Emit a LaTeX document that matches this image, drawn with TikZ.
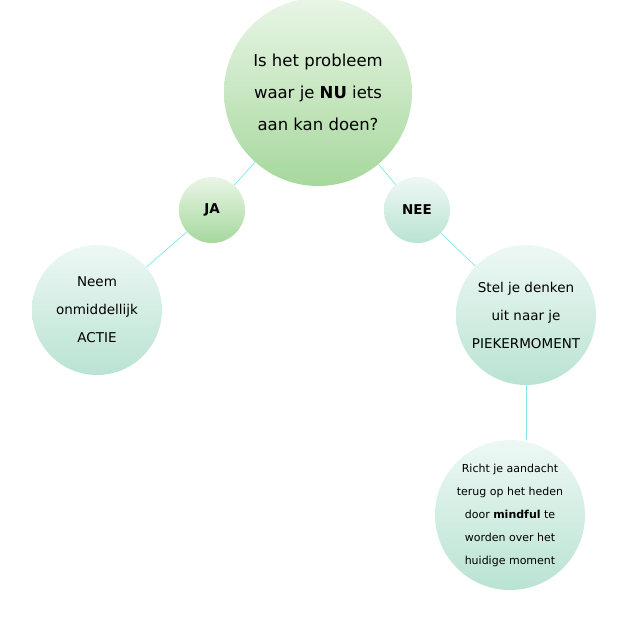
\documentclass[tikz,border=0pt]{standalone}
\usepackage{fontspec}
\setmainfont{DejaVu Sans}
\begin{document}
\begin{tikzpicture}[x=1pt,y=-1pt,
  bub/.style={circle,draw=none,top color=#1!25!white,bottom color=#1,align=center,inner sep=0pt},
  conn/.style={draw=teal!40!cyan!50!white,line width=0.7pt}]
\useasboundingbox (0,0) rectangle (640,640);
\definecolor{mint}{HTML}{B9E3D3}
\definecolor{leaf}{HTML}{A6D89C}
\node[bub=leaf,minimum size=188pt,font=\fontsize{16.5}{32}\selectfont] (top) at (318,92) {Is het probleem\\waar je \textbf{NU} iets\\aan kan doen?};
\node[bub=leaf,minimum size=66pt,font=\fontsize{13.5}{15}\selectfont\bfseries] (ja) at (212,210) {JA};
\node[bub=mint,minimum size=66pt,font=\fontsize{13.5}{15}\selectfont\bfseries] (nee) at (417,210) {NEE};
\node[bub=mint,minimum size=130pt,font=\fontsize{13.5}{28}\selectfont] (neem) at (97,310) {Neem\\onmiddellijk\\ACTIE};
\node[bub=mint,minimum size=140pt,font=\fontsize{13.5}{28}\selectfont] (stel) at (526,315) {Stel je denken\\uit naar je\\PIEKERMOMENT};
\node[bub=mint,minimum size=150pt,font=\fontsize{11}{23}\selectfont] (richt) at (510,515) {Richt je aandacht\\terug op het heden\\door \textbf{mindful} te\\worden over het\\huidige moment};
\draw[conn] (top) -- (ja);
\draw[conn] (ja) -- (neem);
\draw[conn] (top) -- (nee);
\draw[conn] (nee) -- (stel);
\draw[conn] (stel.south) -- (stel.south |- richt.north);
\end{tikzpicture}
\end{document}
